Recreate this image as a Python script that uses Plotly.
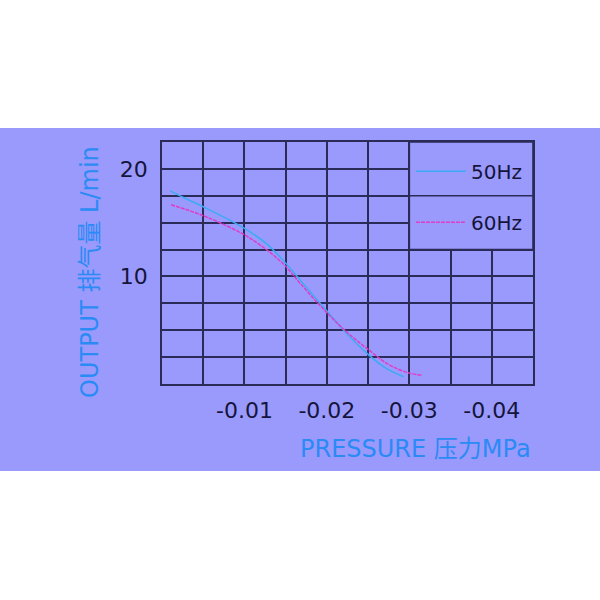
import plotly.graph_objects as go

# ---- data ----
pressure_50 = [-0.0010, -0.0026, -0.0050, -0.0098, -0.0127, -0.0149, -0.0168, -0.0201, -0.0224, -0.0251, -0.0272, -0.0293]
output_50 = [17.96, 17.34, 16.48, 14.56, 13.03, 11.32, 9.63, 6.69, 4.69, 2.69, 1.45, 0.68]

pressure_60 = [-0.0011, -0.0050, -0.0098, -0.0127, -0.0149, -0.0168, -0.0201, -0.0224, -0.0251, -0.0276, -0.0301, -0.0315]
output_60 = [16.67, 15.65, 13.95, 12.47, 11.02, 9.32, 6.54, 4.84, 3.15, 1.76, 0.99, 0.83]

x_tickvals = [0, -0.005, -0.01, -0.015, -0.02, -0.025, -0.03, -0.035, -0.04, -0.045]
x_ticktext = ["", "", "-0.01", "", "-0.02", "", "-0.03", "", "-0.04", ""]
y_tickvals = [0, 2.5, 5, 7.5, 10, 12.5, 15, 17.5, 20, 22.5]
y_ticktext = ["", "", "", "", "10", "", "", "", "20", ""]

series_names = ["50Hz", "60Hz"]
x_title = "PRESSURE 压力MPa"
y_title = "OUTPUT 排气量 L/min"

# ---- styling ----
BAND = "#9A9AFC"
GRID = "#2B2B58"
TICK = "#15153C"
TITLE = "#2A8AF6"
FONT = "DejaVu Sans, Noto Sans CJK SC"

fig = go.Figure()
fig.add_trace(go.Scatter(x=pressure_50, y=output_50, mode="lines", name=series_names[0],
                         legendgroup="a",
                         line=dict(color="#3DAAF5", width=1.5, shape="spline")))
fig.add_trace(go.Scatter(x=pressure_60, y=output_60, mode="lines", name=series_names[1],
                         legendgroup="b",
                         line=dict(color="#E03CC8", width=1.5, shape="spline", dash="4px,1px")))

# background band
fig.add_shape(type="rect", xref="paper", yref="paper", x0=-0.45, x1=1.19, y0=-0.3595, y1=1.058,
              fillcolor=BAND, line=dict(width=0), layer="below")
# legend box region (covers grid inside)
fig.add_shape(type="rect", xref="x", yref="y", x0=-0.03, x1=-0.045, y0=12.5, y1=22.5,
              fillcolor=BAND, line=dict(color=GRID, width=1.6), layer="between")
fig.add_shape(type="line", xref="x", yref="y", x0=-0.03, x1=-0.045, y0=17.5, y1=17.5,
              line=dict(color=GRID, width=1.6), layer="between")

axis_common = dict(showgrid=True, gridcolor=GRID, gridwidth=1.6, showline=True, linecolor=GRID,
                   linewidth=1.6, mirror=True, zeroline=False, ticks="",
                   tickfont=dict(family=FONT, size=22, color=TICK))
fig.update_xaxes(range=[0, -0.045], tickmode="array", tickvals=x_tickvals, ticktext=x_ticktext,
                 ticklabelstandoff=6, **axis_common)
fig.update_yaxes(range=[0, 22.5], tickmode="array", tickvals=y_tickvals, ticktext=y_ticktext,
                 ticklabelstandoff=8, **axis_common)

fig.add_annotation(text=y_title, xref="paper", yref="paper", x=-0.194, y=0.463, textangle=-90,
                   showarrow=False, xanchor="center", yanchor="middle",
                   font=dict(family=FONT, size=24, color=TITLE))
fig.add_annotation(text=x_title, xref="paper", yref="paper", x=1.0, y=-0.2686,
                   showarrow=False, xanchor="right", yanchor="middle",
                   font=dict(family=FONT, size=24, color=TITLE))

fig.update_layout(
    width=600, height=600,
    margin=dict(l=162, r=67, t=142, b=216, autoexpand=False),
    paper_bgcolor="white", plot_bgcolor=BAND,
    showlegend=True,
    legend=dict(x=0.671, y=0.96, xanchor="left", yanchor="top", bgcolor="rgba(0,0,0,0)",
                font=dict(family=FONT, size=20, color=TICK), itemwidth=50,
                tracegroupgap=22, borderwidth=0),
)

fig.write_html("out.html", config={"displayModeBar": False},
               post_script="document.body.style.margin='0';")
